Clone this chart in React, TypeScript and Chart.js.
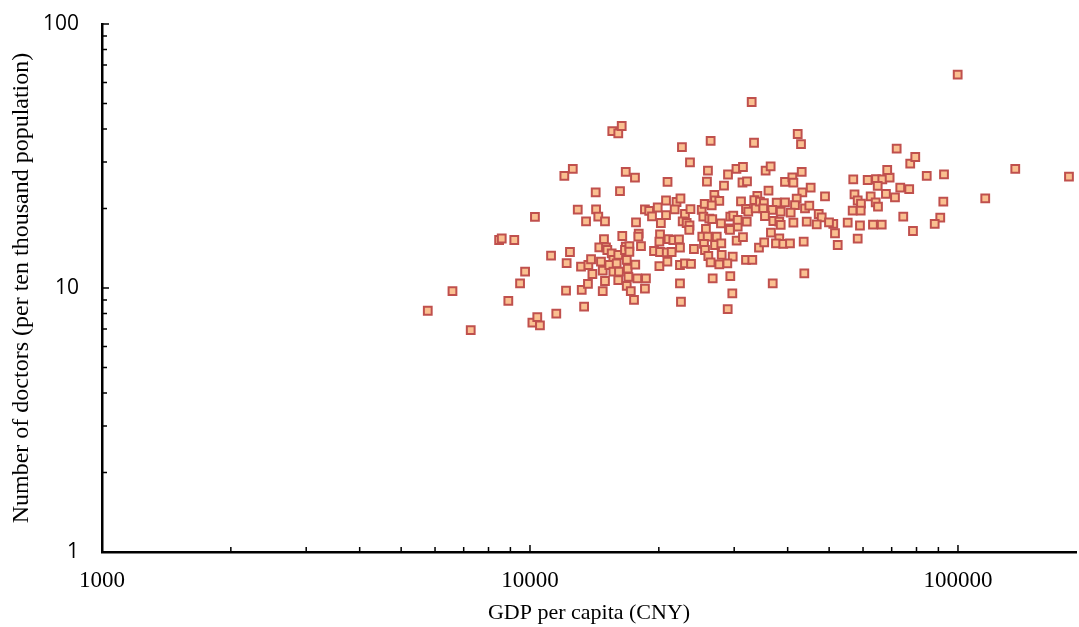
import React, { useEffect, useRef } from 'react';
import { Chart, registerables } from 'chart.js';

Chart.register(...registerables);

const gdpPerCapita: number[] = [
  5770, 6590, 7270, 8470, 8590, 9190, 8900, 9480, 9740, 10270,
  10130, 10400, 10550, 11200, 11520, 12030, 12590, 12140, 12180, 12400,
  12930, 13160, 13210, 13380, 13520, 13690, 13660, 13890, 13990, 14240,
  14270, 14440, 14970, 14520, 14890, 15050, 15160, 14650, 14790, 14970,
  14790, 15520, 15660, 15320, 15660, 16080, 15940, 16140, 16080, 16430,
  16230, 15570, 16080, 16380, 16740, 17590, 16740, 16670, 16830, 16920,
  16980, 16830, 17200, 17500, 17070, 17070, 17620, 17810, 18660, 18560,
  17690, 17950, 17910, 18170, 18560, 18990, 19280, 19880, 20790, 20790,
  20220, 20130, 20060, 21070, 21620, 22290, 19490, 20130, 20870, 21430,
  22410, 20060, 20940, 22410, 23020, 23780, 22410, 22530, 20960, 22650,
  23650, 22000, 22470, 21780, 23020, 23710, 22740, 23230, 23590, 23560,
  24160, 25190, 25600, 25410, 26430, 26050, 25910, 26960, 27060, 27690,
  26580, 26240, 26660, 25770, 25270, 26010, 27310, 25500, 27060, 27990,
  25640, 26100, 28050, 29760, 26430, 27690, 28910, 31970, 33070, 26720,
  29380, 29700, 28970, 27940, 29170, 29380, 29850, 30570, 30570, 32090,
  29330, 30400, 31450, 29020, 30370, 31450, 28400, 31370, 32140, 31120,
  31970, 32360, 32960, 33380, 33980, 33430, 33680, 34280, 34460, 35200,
  35080, 35530, 36500, 39430, 41020, 41250, 43140, 42980, 42220, 45270,
  43280, 36080, 48900, 37710, 39430, 41990, 41610, 43910, 44940, 36820,
  38530, 40650, 47270, 48040, 51130, 49960, 51600, 44320, 35400, 37030,
  38240, 38530, 41250, 46770, 43600, 35260, 36560, 38240, 37560, 39070,
  40500, 52360, 43750, 36910, 56930, 61520, 64330, 66560, 69230, 68340,
  64930, 57310, 58300, 59340, 62520, 64230, 65030, 67870, 71250, 73310,
  76920, 56750, 59250, 55250, 59020, 63300, 66350, 58300, 71900, 77350,
  79470, 84530, 92760, 74500, 78500, 90910, 88240, 92420, 115800, 136100,
  181700, 99840,
];

const doctorsPer10k: number[] = [
  8.2, 9.74, 6.93, 15.2, 15.4, 15.2, 8.93, 10.42, 11.53, 18.58,
  7.39, 7.76, 7.22, 13.25, 7.99, 26.57, 28.24, 9.77, 12.43, 13.69,
  19.8, 12.04, 9.83, 8.5, 17.89, 12.22, 10.36, 12.85, 11.3, 23.04,
  19.87, 18.63, 17.89, 14.26, 15.33, 14.26, 13.93, 12.58, 11.63, 10.63,
  9.74, 13.53, 12.77, 12.22, 11.53, 13.34, 12.4, 11.53, 10.72, 15.74,
  23.3, 39.32, 38.55, 41.08, 27.51, 26.17, 14.34, 13.93, 12.77, 11.83,
  11.01, 10.18, 9.74, 9.01, 14.42, 13.72, 12.25, 10.88, 10.88, 9.94,
  17.74, 16.06, 15.64, 14.42, 19.87, 19.58, 18.66, 20.18, 21.45, 18.9,
  17.63, 15.97, 14.98, 15.33, 15.2, 15.27, 13.81, 13.69, 13.65, 13.69,
  14.21, 12.11, 12.58, 12.22, 12.4, 12.33, 10.42, 8.87, 25.21, 34.2,
  29.93, 21.17, 21.83, 19.87, 19.07, 19.89, 17.89, 17.63, 17.25, 16.59,
  14.05, 19.75, 20.81, 18.63, 36.06, 27.81, 25.27, 22.51, 21.49, 21.36,
  20.57, 18.3, 18.25, 16.73, 15.64, 15.64, 15.64, 14.68, 14.55, 14.77,
  13.93, 13.22, 13.34, 13.14, 12.51, 12.3, 12.4, 12.77, 12.77, 10.88,
  11.1, 9.55, 8.31, 17.58, 16.83, 18.63, 18.79, 17.07, 18.1, 17.83,
  16.59, 15.11, 15.6, 26.91, 28.24, 28.73, 24.41, 25.1, 25.32, 21.27,
  19.92, 19.45, 50.64, 35.5, 22.31, 21.54, 20.04, 14.21, 21.23, 20.94,
  20.04, 27.81, 28.91, 25.21, 26.26, 25.06, 27.51, 35.1, 38.31, 23.99,
  23.04, 23.4, 22.25, 21.05, 21.11, 21.79, 20.62, 20.04, 20.5, 19.75,
  19.45, 19.28, 19.07, 18.53, 17.48, 17.74, 16.12, 17.83, 18.74, 17.94,
  17.83, 17.33, 17.67, 17.43, 14.98, 14.9, 16.2, 15.42, 14.77, 14.68,
  14.77, 14.55, 11.37, 10.42, 25.81, 25.65, 25.87, 25.81, 26.17, 27.99,
  24.35, 22.61, 21.45, 20.86, 22.25, 21.11, 20.32, 22.71, 22.06, 23.99,
  23.71, 19.63, 19.63, 17.67, 17.25, 17.37, 17.37, 15.37, 33.7, 29.57,
  31.35, 26.57, 26.96, 18.63, 16.44, 18.46, 17.48, 21.23, 21.87, 28.24,
  26.4, 64.3,
];

const xTickValues: number[] = [1000, 10000, 100000];
const yTickValues: number[] = [1, 10, 100];
const xAxisMin = 1000;
const xAxisMax = 188700;
const yAxisMin = 1;
const yAxisMax = 100;
const xTitle = 'GDP per capita (CNY)';
const yTitle = 'Number of doctors (per ten thousand population)';

const insideTicks = {
  id: 'insideTicks',
  afterDraw(chart: any) {
    const ctx = chart.ctx;
    const xs = chart.scales.x;
    const ys = chart.scales.y;
    const area = chart.chartArea;
    ctx.save();
    ctx.strokeStyle = '#000';
    ctx.lineWidth = 1.5;
    ctx.beginPath();
    xTickValues.forEach((d) => {
      for (let k = 1; k <= 9; k++) {
        const v = d * k;
        if (v < xs.min || v > xs.max) continue;
        const px = xs.getPixelForValue(v);
        const len = k === 1 ? 7 : 5;
        ctx.moveTo(px, area.bottom);
        ctx.lineTo(px, area.bottom - len);
      }
    });
    yTickValues.forEach((d) => {
      for (let k = 1; k <= 9; k++) {
        const v = d * k;
        if (v < ys.min || v > ys.max) continue;
        const py = ys.getPixelForValue(v);
        const len = k === 1 ? 7 : 5;
        ctx.moveTo(area.left, py);
        ctx.lineTo(area.left + len, py);
      }
    });
    ctx.stroke();
    ctx.restore();
  },
};

const zeroPadding = (s: any) => {
  s.paddingTop = 0;
  s.paddingBottom = 0;
  s.paddingLeft = 0;
  s.paddingRight = 0;
};

export default function App() {
  const ref = useRef<HTMLCanvasElement>(null);
  useEffect(() => {
    document.body.style.margin = '0';
    const points = gdpPerCapita.map((x, i) => ({ x, y: doctorsPer10k[i] }));
    const chart = new Chart(ref.current as HTMLCanvasElement, {
      type: 'scatter',
      data: {
        datasets: [
          {
            data: points,
            pointStyle: 'rect',
            pointRadius: 5.5,
            borderWidth: 2,
            borderColor: '#C0504D',
            backgroundColor: '#FAC090',
          },
        ],
      },
      options: {
        responsive: false,
        animation: false,
        devicePixelRatio: 1,
        events: [],
        layout: { autoPadding: false, padding: { top: 24, right: 3, left: 0, bottom: 0 } },
        plugins: { legend: { display: false }, tooltip: { enabled: false } },
        scales: {
          x: {
            type: 'logarithmic',
            min: xAxisMin,
            max: xAxisMax,
            bounds: 'data',
            afterBuildTicks: (s: any) => {
              s.ticks = xTickValues.map((v) => ({ value: v }));
            },
            afterFit: (s: any) => {
              s.height = 75;
              zeroPadding(s);
            },
            grid: { display: false, drawTicks: false },
            border: { display: true, color: '#000', width: 2.5 },
            ticks: {
              autoSkip: false,
              maxRotation: 0,
              padding: 15,
              color: '#000',
              font: { family: "'Liberation Serif', 'Times New Roman', serif", size: 23 },
              callback: (v: any) => String(v),
            },
            title: {
              display: true,
              text: xTitle,
              color: '#000',
              font: { family: "'Liberation Serif', 'Times New Roman', serif", size: 22 },
              padding: { top: 0, bottom: 1 },
            },
          },
          y: {
            type: 'logarithmic',
            min: yAxisMin,
            max: yAxisMax,
            bounds: 'data',
            afterBuildTicks: (s: any) => {
              s.ticks = yTickValues.map((v) => ({ value: v }));
            },
            afterFit: (s: any) => {
              s.width = 102;
              zeroPadding(s);
            },
            grid: { display: false, drawTicks: false },
            border: { display: true, color: '#000', width: 2.5 },
            ticks: {
              autoSkip: false,
              padding: 23,
              color: '#000',
              font: { family: "'Open Sans', 'Liberation Sans', sans-serif", size: 21 },
              callback: (v: any) => String(v),
            },
            title: {
              display: true,
              text: yTitle,
              color: '#000',
              font: { family: "'Liberation Serif', 'Times New Roman', serif", size: 24 },
              padding: { top: 7.5, bottom: 0 },
            },
          },
        },
      },
      plugins: [insideTicks],
    });
    return () => chart.destroy();
  }, []);
  return (
    <div style={{ width: 1079, height: 627 }}>
      <canvas ref={ref} width={1079} height={627} />
    </div>
  );
}
